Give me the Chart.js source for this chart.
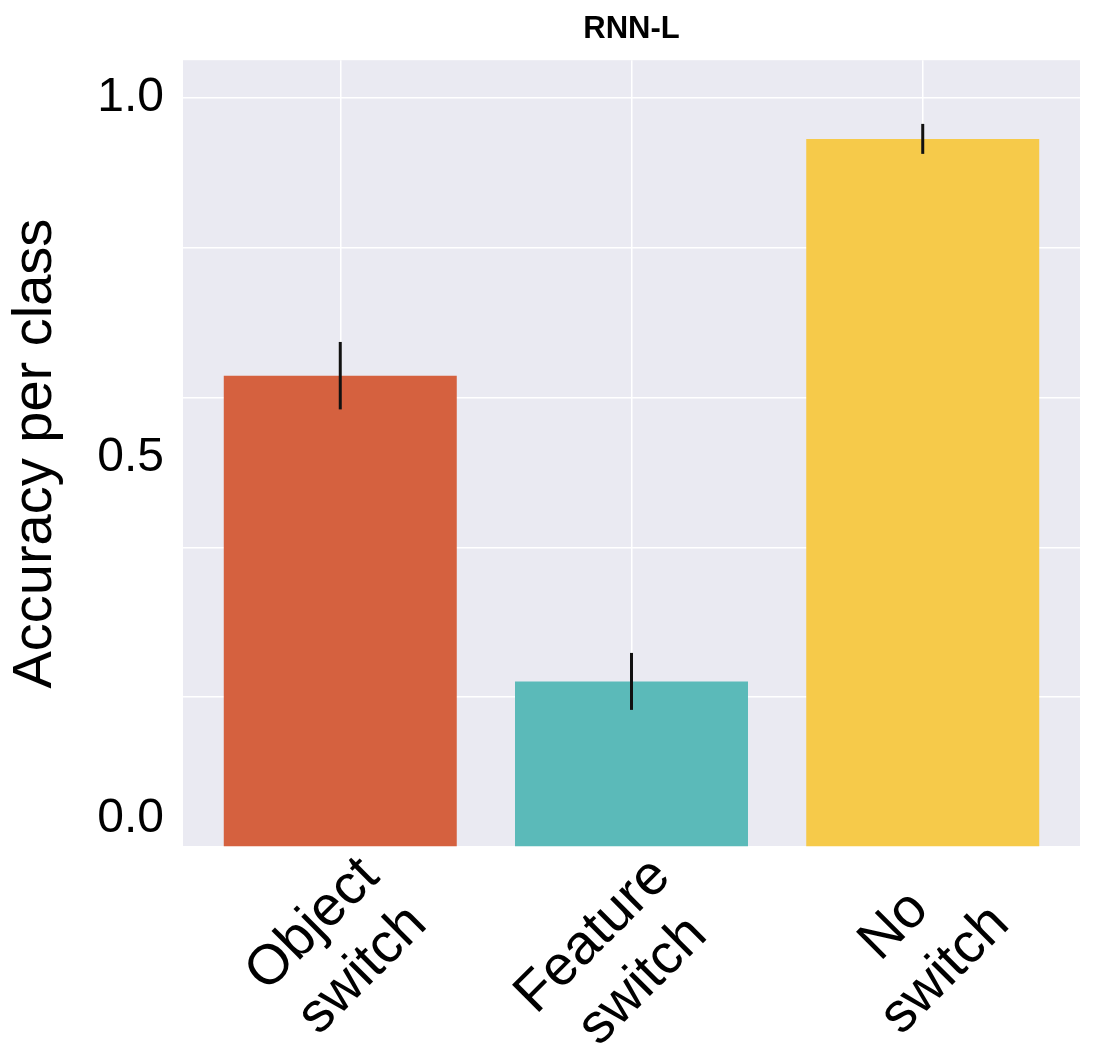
<!DOCTYPE html>
<html>
<head>
<meta charset="utf-8">
<script src="https://cdn.jsdelivr.net/npm/chart.js@4.4.1/dist/chart.umd.min.js"></script>
<style>
  html, body { margin: 0; padding: 0; background: #fff; }
  #wrap { width: 1094px; height: 1046px; position: relative; }
</style>
</head>
<body>
<div id="wrap"><canvas id="accChart"></canvas></div>
<script>
const categories = ['Object switch', 'Feature switch', 'No switch'];
const accuracy = [0.629, 0.221, 0.945];
const errorHalf = [0.045, 0.038, 0.020];
const barColours = ['#D5613F', '#5BBAB9', '#F6CA4A'];
const yTickLabels = ['0.0', '0.5', '1.0'];
const yTickValues = [0.038, 0.519, 1.0];

const FONT = '"Liberation Sans", Arial, Helvetica, sans-serif';
Chart.defaults.font.family = FONT;
Chart.defaults.color = '#000';

// split a category into two lines, padded so the lines sit centred
const meas = document.createElement('canvas').getContext('2d');
function centredLines(label) {
    const lines = label.split(' ');
    meas.font = '56px ' + FONT;
    const widths = lines.map(l => meas.measureText(l).width);
    const widest = Math.max(...widths);
    const sp = meas.measureText(' ').width;
    return lines.map((l, i) => l + ' '.repeat(Math.round((widest - widths[i]) / 2 / sp)));
}

const plotBackground = {
    id: 'plotBackground',
    beforeDraw(chart) {
        const { ctx, chartArea: a } = chart;
        ctx.save();
        ctx.fillStyle = '#EAEAF2';
        ctx.fillRect(a.left, a.top, a.right - a.left, a.bottom - a.top);
        ctx.restore();
    }
};

const errorBars = {
    id: 'errorBars',
    afterDatasetsDraw(chart) {
        const { ctx, scales: { x, y } } = chart;
        ctx.save();
        ctx.strokeStyle = '#111';
        ctx.lineWidth = 3;
        accuracy.forEach((v, i) => {
            const px = x.getPixelForValue(i);
            ctx.beginPath();
            ctx.moveTo(px, y.getPixelForValue(v - errorHalf[i]));
            ctx.lineTo(px, y.getPixelForValue(v + errorHalf[i]));
            ctx.stroke();
        });
        ctx.restore();
    }
};

const ctx = document.getElementById('accChart').getContext('2d');
new Chart(ctx, {
    type: 'bar',
    data: {
        datasets: [{
            data: accuracy.map((v, i) => ({ x: i, y: v })),
            backgroundColor: barColours,
            borderWidth: 0,
            barPercentage: 0.8,
            categoryPercentage: 1.0
        }]
    },
    options: {
        responsive: true,
        maintainAspectRatio: false,
        animation: false,
        layout: { padding: { left: 0, right: 14, top: 0, bottom: 0 } },
        plugins: {
            legend: { display: false },
            tooltip: { enabled: false },
            title: {
                display: true,
                fullSize: false,
                text: 'RNN-L',
                font: { size: 31, weight: 'bold' },
                color: '#000',
                padding: { top: 11, bottom: 12 }
            }
        },
        scales: {
            x: {
                type: 'linear',
                min: -0.54,
                max: 2.54,
                offset: false,
                afterBuildTicks: s => { s.ticks = categories.map((c, i) => ({ value: i })); },
                afterFit: s => { s.height = 199; },
                border: { display: false },
                grid: { color: '#fff', lineWidth: 1.5, drawTicks: false, offset: false },
                ticks: {
                    autoSkip: false,
                    minRotation: 45,
                    maxRotation: 45,
                    padding: -3,
                    labelOffset: 30,
                    font: { size: 56 },
                    color: '#000',
                    callback: v => centredLines(categories[v])
                }
            },
            y: {
                position: 'left',
                min: 0,
                max: 1.05,
                afterBuildTicks: s => { s.ticks = s.ticks.filter(t => t.value <= 1.0001); },
                afterFit: s => { s.width = 0; },
                border: { display: false },
                grid: { color: '#fff', lineWidth: 1.5, drawTicks: false },
                ticks: { display: false, stepSize: 0.2 }
            },
            yl: {
                position: 'left',
                min: 0,
                max: 1.05,
                afterBuildTicks: s => { s.ticks = yTickValues.map(v => ({ value: v })); },
                afterFit: s => { s.width = 183; },
                border: { display: false },
                grid: { display: false, drawTicks: false },
                ticks: {
                    padding: 19,
                    font: { size: 48 },
                    color: '#000',
                    callback: (v, i) => yTickLabels[i]
                },
                title: {
                    display: true,
                    text: 'Accuracy per class',
                    font: { size: 56 },
                    color: '#000',
                    padding: { top: 2, bottom: 0 }
                }
            }
        }
    },
    plugins: [plotBackground, errorBars]
});
</script>
</body>
</html>
